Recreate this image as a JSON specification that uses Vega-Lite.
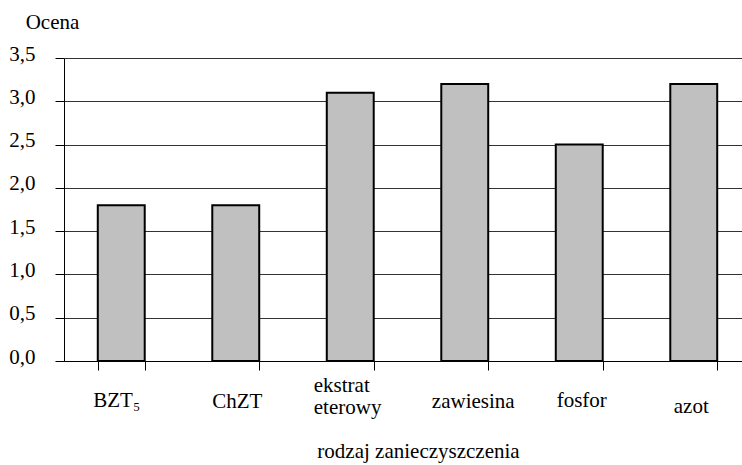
{
  "$schema": "https://vega.github.io/schema/vega-lite/v6.json",
  "width": 678,
  "height": 303,
  "autosize": {"type": "none"},
  "padding": {"left": 64, "top": 58, "right": 0, "bottom": 104},
  "background": "white",
  "config": {
    "view": {"stroke": null}
  },
  "data": {
    "values": [
      {"rodzaj": "BZT₅", "ocena": 1.8},
      {"rodzaj": "ChZT", "ocena": 1.8},
      {"rodzaj": "ekstrat eterowy", "ocena": 3.1},
      {"rodzaj": "zawiesina", "ocena": 3.2},
      {"rodzaj": "fosfor", "ocena": 2.5},
      {"rodzaj": "azot", "ocena": 3.2}
    ]
  },
  "mark": {"type": "bar", "fill": "#c0c0c0", "stroke": "black", "strokeWidth": 2},
  "encoding": {
    "x": {
      "field": "rodzaj",
      "type": "nominal",
      "sort": null,
      "scale": {"range": [0, 687], "paddingInner": 0.59, "paddingOuter": 0.295},
      "axis": {
        "title": "rodzaj zanieczyszczenia",
        "titleFont": "Liberation Serif",
        "titleFontSize": 21,
        "titleFontWeight": "normal",
        "titleColor": "black",
        "titleX": 354,
        "titleY": 96,
        "titleAlign": "center",
        "titleBaseline": "alphabetic",
        "titleAnchor": null,
        "labelFont": "Liberation Serif",
        "labelFontSize": 21,
        "labelColor": "black",
        "labelAngle": 0,
        "labelBaseline": "alphabetic",
        "labelLineHeight": 22,
        "labelExpr": "datum.value == 'ekstrat eterowy' ? ['ekstrat', 'eterowy'] : datum.value",
        "labelAlign": {"condition": {"test": "datum.value == 'ekstrat eterowy'", "value": "left"}, "value": "center"},
        "labelPadding": {"condition": [
          {"test": "datum.value == 'ekstrat eterowy'", "value": 21},
          {"test": "datum.value == 'azot'", "value": 42},
          {"test": "datum.value == 'BZT₅' || datum.value == 'fosfor'", "value": 36}
        ], "value": 37},
        "labelOffset": {"condition": [
          {"test": "datum.value == 'ekstrat eterowy'", "value": -37},
          {"test": "datum.value == 'BZT₅'", "value": -5},
          {"test": "datum.value == 'zawiesina'", "value": 8},
          {"test": "datum.value == 'fosfor'", "value": 2},
          {"test": "datum.value == 'azot'", "value": -3}
        ], "value": 1},
        "tickBand": "extent",
        "tickSize": 9,
        "tickColor": "black",
        "tickWidth": 1,
        "domainColor": "black",
        "grid": false
      }
    },
    "y": {
      "field": "ocena",
      "type": "quantitative",
      "scale": {"domain": [0, 3.5], "nice": false},
      "axis": {
        "title": "Ocena",
        "titleFont": "Liberation Serif",
        "titleFontSize": 21,
        "titleFontWeight": "normal",
        "titleColor": "black",
        "titleAngle": 0,
        "titleX": -12,
        "titleY": -30,
        "titleAlign": "center",
        "titleBaseline": "alphabetic",
        "titleAnchor": null,
        "labelFont": "Liberation Serif",
        "labelFontSize": 21,
        "labelColor": "black",
        "values": [0, 0.5, 1, 1.5, 2, 2.5, 3, 3.5],
        "labelExpr": "replace(format(datum.value, '.1f'), '.', ',')",
        "labelBaseline": "alphabetic",
        "labelOffset": 2,
        "labelPadding": 20,
        "tickSize": 9,
        "tickColor": "black",
        "domainColor": "black",
        "grid": true,
        "gridColor": "#333",
        "gridOpacity": 1,
        "gridWidth": 1
      }
    }
  }
}
